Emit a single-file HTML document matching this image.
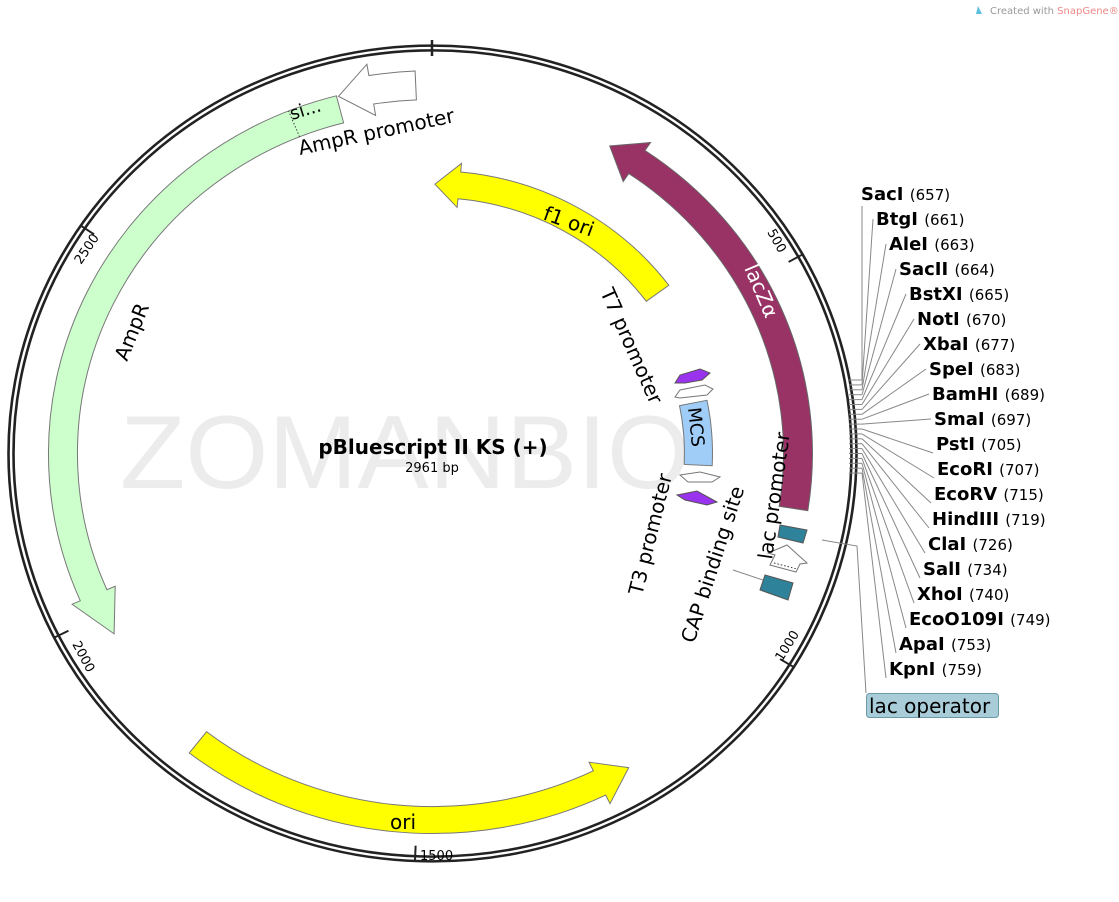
<!DOCTYPE html>
<html><head><meta charset="utf-8"><style>
html,body{margin:0;padding:0;background:#fff;}
svg{display:block;}
text{font-family:"DejaVu Sans","Liberation Sans",sans-serif;}
</style></head><body>
<svg id="s" width="1119" height="902" viewBox="0 0 1119 902" xmlns="http://www.w3.org/2000/svg">
<text x="990" y="14" font-size="10" fill="#999">Created with <tspan fill="#e88">SnapGene®</tspan></text>
<path d="M978 6 l4 8 l-6 0 z" fill="#5bc0de"/>
<text x="120" y="488" font-size="104" fill="#ececec" textLength="570" lengthAdjust="spacingAndGlyphs" style="font-family:'Liberation Sans',sans-serif">ZOMANBIO</text>
<g id="shapes" transform="translate(0,453.5) scale(1,0.962) translate(0,-453.5)">
<ellipse cx="432.5" cy="453.5" rx="424" ry="424" fill="none" stroke="#222" stroke-width="2.6"/>
<ellipse cx="432.5" cy="453.5" rx="419" ry="419" fill="none" stroke="#222" stroke-width="2.6"/>
</g>
<g stroke-width="1">
<polygon points="675,383 680,375 700,369 710,373 702,380 685,383" fill="#9933ee" stroke="#555"/>
<polygon points="675,397 680,390 705,385 713,389 707,395 680,398" fill="#fff" stroke="#777"/>
<polygon points="680,475 700,472 720,477 712,482 688,482" fill="#fff" stroke="#777"/>
<polygon points="677,495 697,491 717,502 707,505 685,500" fill="#9933ee" stroke="#555"/>
<polygon points="780,525 807,530 803,543 778,537" fill="#2e8299" stroke="#555"/>
<polygon points="770,565 775,555 768,553 787,545 807,563 800,564 796,572" fill="#fff" stroke="#777"/>
<line x1="774" y1="563" x2="797" y2="569" stroke="#333" stroke-dasharray="1.5,2"/>
<polygon points="765,575 793,583 788,600 760,590" fill="#2e8299" stroke="#555"/>
<line x1="733" y1="570" x2="763" y2="580" stroke="#888"/>
</g>
<line x1="432" y1="40" x2="432" y2="56" stroke="#222" stroke-width="2.5"/>
<text x="433" y="454" font-size="20" font-weight="bold" text-anchor="middle">pBluescript II KS (+)</text>
<text x="432" y="472" font-size="13" text-anchor="middle">2961 bp</text>
<text font-size="13" transform="translate(767,232) rotate(60.8)">500</text>
<text font-size="13" transform="translate(782,662) rotate(-58)">1000</text>
<text font-size="13" x="420" y="860">1500</text>
<text font-size="13" transform="translate(72,644) rotate(62)">2000</text>
<text font-size="13" transform="translate(81,265) rotate(-56)">2500</text>
<text font-size="20" transform="translate(127,362) rotate(-68)">AmpR</text>
<text font-size="20" transform="translate(300,155) rotate(-12)">AmpR promoter</text>
<text font-size="18" transform="translate(292,120) rotate(-17)">si...</text>
<text font-size="20" transform="translate(542,219) rotate(20)">f1 ori</text>
<text font-size="20" fill="#fff" transform="translate(744,268) rotate(67)">lacZα</text>
<text font-size="20" transform="translate(600,292) rotate(66)">T7 promoter</text>
<text font-size="18" transform="translate(688,408) rotate(84)">MCS</text>
<text font-size="20" transform="translate(642,596) rotate(-76)">T3 promoter</text>
<text font-size="20" transform="translate(694,644) rotate(-72)">CAP binding site</text>
<text font-size="20" transform="translate(772,560) rotate(-82)">lac promoter</text>
<text font-size="20" x="390" y="829">ori</text>
<g id="enz" stroke="#888" stroke-width="1" fill="none"></g>
<g font-size="18">
<text x="861" y="200" font-weight="bold">SacI <tspan font-weight="normal" font-size="15">(657)</tspan></text>
<text x="876" y="225" font-weight="bold">BtgI <tspan font-weight="normal" font-size="15">(661)</tspan></text>
<text x="889" y="250" font-weight="bold">AleI <tspan font-weight="normal" font-size="15">(663)</tspan></text>
<text x="899" y="275" font-weight="bold">SacII <tspan font-weight="normal" font-size="15">(664)</tspan></text>
<text x="909" y="300" font-weight="bold">BstXI <tspan font-weight="normal" font-size="15">(665)</tspan></text>
<text x="917" y="325" font-weight="bold">NotI <tspan font-weight="normal" font-size="15">(670)</tspan></text>
<text x="923" y="350" font-weight="bold">XbaI <tspan font-weight="normal" font-size="15">(677)</tspan></text>
<text x="929" y="375" font-weight="bold">SpeI <tspan font-weight="normal" font-size="15">(683)</tspan></text>
<text x="932" y="400" font-weight="bold">BamHI <tspan font-weight="normal" font-size="15">(689)</tspan></text>
<text x="934" y="425" font-weight="bold">SmaI <tspan font-weight="normal" font-size="15">(697)</tspan></text>
<text x="936" y="450" font-weight="bold">PstI <tspan font-weight="normal" font-size="15">(705)</tspan></text>
<text x="937" y="475" font-weight="bold">EcoRI <tspan font-weight="normal" font-size="15">(707)</tspan></text>
<text x="934" y="500" font-weight="bold">EcoRV <tspan font-weight="normal" font-size="15">(715)</tspan></text>
<text x="932" y="525" font-weight="bold">HindIII <tspan font-weight="normal" font-size="15">(719)</tspan></text>
<text x="928" y="550" font-weight="bold">ClaI <tspan font-weight="normal" font-size="15">(726)</tspan></text>
<text x="923" y="575" font-weight="bold">SalI <tspan font-weight="normal" font-size="15">(734)</tspan></text>
<text x="917" y="600" font-weight="bold">XhoI <tspan font-weight="normal" font-size="15">(740)</tspan></text>
<text x="909" y="625" font-weight="bold">EcoO109I <tspan font-weight="normal" font-size="15">(749)</tspan></text>
<text x="899" y="650" font-weight="bold">ApaI <tspan font-weight="normal" font-size="15">(753)</tspan></text>
<text x="889" y="675" font-weight="bold">KpnI <tspan font-weight="normal" font-size="15">(759)</tspan></text>
</g>
<polyline points="822,540 857,546 866,693" fill="none" stroke="#888" stroke-width="1"/>
<rect x="866.5" y="693.5" width="132" height="24" rx="3" fill="#a8ccd8" stroke="#6a9aa8"/>
<text x="869" y="713" font-size="20">lac operator</text>
</svg>
<script>
(function(){
var cx=432.5,cy=453.5,NS="http://www.w3.org/2000/svg";
function P(a,r){var t=a*Math.PI/180;return [cx+r*Math.sin(t),cy-r*Math.cos(t)];}
function f(p){return p[0].toFixed(1)+","+p[1].toFixed(1);}
function add(g,tag,at){var e=document.createElementNS(NS,tag);for(var k in at)e.setAttribute(k,at[k]);g.appendChild(e);return e;}
var g=document.getElementById("shapes");
function band(a1,a2,r1,r2,fill,stroke){var lg=(a2-a1)>180?1:0;var d="M"+f(P(a1,r2))+" A"+r2+","+r2+" 0 "+lg+" 1 "+f(P(a2,r2))+" L"+f(P(a2,r1))+" A"+r1+","+r1+" 0 "+lg+" 0 "+f(P(a1,r1))+"Z";add(g,"path",{d:d,fill:fill,stroke:stroke||"#666","stroke-width":1});}
function arrow(tail,tip,r1,r2,hl,ex,fill,stroke){
 var dir=tip>tail?1:-1,hb=tip-dir*hl,rm=(r1+r2)/2;
 var a1=Math.min(tail,hb),a2=Math.max(tail,hb),lg=(a2-a1)>180?1:0;
 var d;
 if(dir<0){d="M"+f(P(a2,r2))+" A"+r2+","+r2+" 0 "+lg+" 0 "+f(P(a1,r2))+" L"+f(P(a1,r2+ex))+" L"+f(P(tip,rm))+" L"+f(P(a1,r1-ex))+" L"+f(P(a1,r1))+" A"+r1+","+r1+" 0 "+lg+" 1 "+f(P(a2,r1))+"Z";}
 else{d="M"+f(P(a1,r2))+" A"+r2+","+r2+" 0 "+lg+" 1 "+f(P(a2,r2))+" L"+f(P(a2,r2+ex))+" L"+f(P(tip,rm))+" L"+f(P(a2,r1-ex))+" L"+f(P(a2,r1))+" A"+r1+","+r1+" 0 "+lg+" 0 "+f(P(a1,r1))+"Z";}
 add(g,"path",{d:d,fill:fill,stroke:stroke||"#666","stroke-width":1});}
arrow(345.5,239.5,355,384,7,9,"#ccffcc","#777");
var q1=P(338,355),q2=P(338,384);add(g,"line",{x1:q1[0],y1:q1[1],x2:q2[0],y2:q2[1],stroke:"#333","stroke-dasharray":"1.5,2"});
arrow(357.5,345.8,368,398,5,12,"#fff","#777");
arrow(53.5,0.5,266,294,5,9,"#ffff00","#777");
arrow(99,29,351,380,5,10,"#993366","#666");
arrow(218,149,367,395,5,10,"#ffff00","#777");
band(78.6,92.6,252,280,"#9fcdf7","#777");
[500,1000,1500,2000,2500].forEach(function(b){var a=b/2961*360,p1=P(a,424),p2=P(a,408);add(g,"line",{x1:p1[0],y1:p1[1],x2:p2[0],y2:p2[1],stroke:"#222","stroke-width":2});});
var e=document.getElementById("enz");
var lx=[861,876,889,899,909,917,923,929,932,934,936,937,934,932,928,923,917,909,899,889];
for(var i=0;i<20;i++){
 var y=380+i*4.9,by=200+i*25;
 add(e,"line",{x1:849,y1:y,x2:862,y2:y});
 var ey=i<10?by-6:by+3,ex=lx[i]-3;
 if(i==0){ex=862;ey=206;}
 add(e,"line",{x1:862,y1:y,x2:ex,y2:ey});
}
})();
</script>
</body></html>
